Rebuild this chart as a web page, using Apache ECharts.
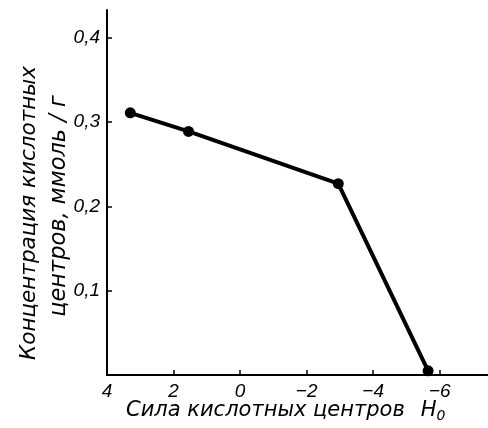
<!DOCTYPE html>
<html><head><meta charset="utf-8">
<script src="https://cdn.jsdelivr.net/npm/echarts@6/dist/echarts.min.js"></script>
<style>html,body{margin:0;padding:0;background:#fff}#c{width:488px;height:428px}</style>
</head><body><div id="c"></div>
<script>
// Data
const acidStrengthH0 = [3.3, 1.55, -2.95, -5.65];
const acidConcentration = [0.311, 0.289, 0.227, 0.005];
const xTickValues = [4, 2, 0, -2, -4, -6];
const yTickValues = [0.1, 0.2, 0.3, 0.4];
const xTitle = 'Сила кислотных центров';
const yTitleLines = ['Концентрация кислотных', 'центров, ммоль / г'];

const FONT = 'DejaVu Sans';
const TICKFONT = 'Liberation Sans';
const chart = echarts.init(document.getElementById('c'), null, {renderer: 'canvas'});
const fmt = v => String(v).replace('-', '−').replace('.', ',');
chart.setOption({
  backgroundColor: '#fff',
  animation: false,
  grid: {left: 107, right: 0, top: 10, bottom: 53, containLabel: false},
  xAxis: {
    type: 'value', inverse: true, min: -7.45, max: 4,
    axisLine: {onZero: false, lineStyle: {color: '#000', width: 2}},
    axisTick: {inside: true, length: 5, lineStyle: {color: '#000', width: 1.5}, customValues: xTickValues},
    axisLabel: {customValues: xTickValues, formatter: fmt, color: '#000', fontFamily: TICKFONT, fontStyle: 'italic', fontSize: 19, margin: 7},
    splitLine: {show: false}
  },
  yAxis: {
    type: 'value', min: 0, max: 0.433,
    axisLine: {show: true, onZero: false, lineStyle: {color: '#000', width: 2}},
    axisTick: {inside: true, length: 5, lineStyle: {color: '#000', width: 1.5}, customValues: yTickValues},
    axisLabel: {customValues: yTickValues, formatter: v => fmt(+v.toFixed(1)), color: '#000', fontFamily: TICKFONT, fontStyle: 'italic', fontSize: 19, margin: 7},
    splitLine: {show: false}
  },
  graphic: [
    {type: 'text', left: 126, top: 400, style: {
      text: '{t|' + xTitle + '}{h|H}{s|0}',
      rich: {
        t: {fontFamily: FONT, fontStyle: 'italic', fontSize: 21, fill: '#000'},
        h: {fontFamily: FONT, fontStyle: 'italic', fontSize: 21, fill: '#000', padding: [0, 0, 0, 16]},
        s: {fontFamily: FONT, fontStyle: 'italic', fontSize: 14, fill: '#000', padding: [12, 0, 0, 0]}
      }
    }},
    {type: 'text', x: 29, y: 213, rotation: Math.PI / 2, style: {
      text: yTitleLines[0], align: 'center', verticalAlign: 'middle',
      font: 'italic 21.5px "DejaVu Sans"', fill: '#000'
    }},
    {type: 'text', x: 59, y: 206, rotation: Math.PI / 2, style: {
      text: yTitleLines[1], align: 'center', verticalAlign: 'middle',
      font: 'italic 22.5px "DejaVu Sans"', fill: '#000'
    }}
  ],
  series: [{
    type: 'line',
    data: acidStrengthH0.map((x, i) => [x, acidConcentration[i]]),
    lineStyle: {color: '#000', width: 4},
    itemStyle: {color: '#000'},
    symbol: 'circle', symbolSize: 11, showSymbol: true
  }]
});
</script></body></html>
